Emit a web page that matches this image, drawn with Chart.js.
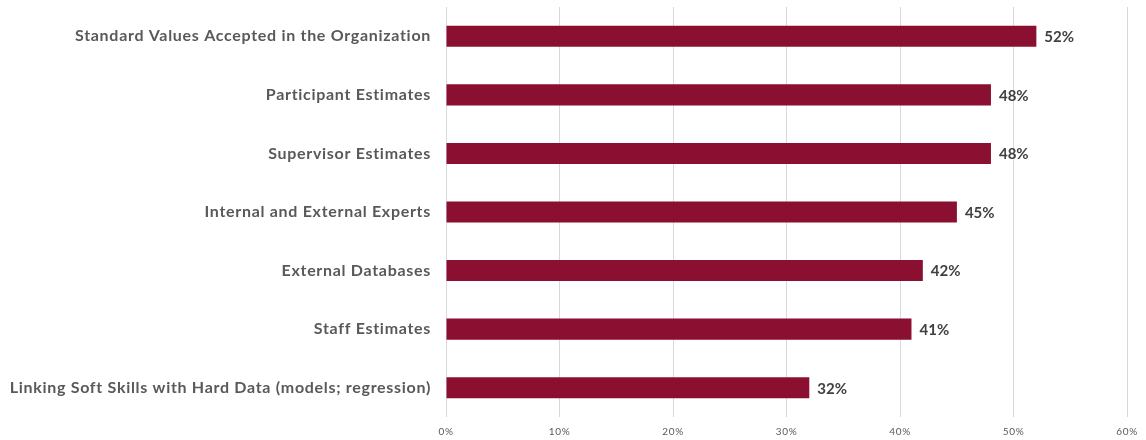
<!DOCTYPE html>
<html><head><meta charset="utf-8">
<script src="https://cdn.jsdelivr.net/npm/chart.js@4/dist/chart.umd.min.js"></script>
<style>html,body{margin:0;padding:0;background:#fff}#wrap{width:1146px;height:440px}</style>
</head><body><div id="wrap"><canvas id="c"></canvas></div>
<script>
const categories = [
  "Standard Values Accepted in the Organization",
  "Participant Estimates",
  "Supervisor Estimates",
  "Internal and External Experts",
  "External Databases",
  "Staff Estimates",
  "Linking Soft Skills with Hard Data (models; regression)"
];
const values = [52, 48, 48, 45, 42, 41, 32];
const tickValues = [0, 10, 20, 30, 40, 50, 60];

const spacing = {
  id: 'spacing',
  beforeDraw(chart) { chart.ctx.letterSpacing = '0.7px'; },
  afterDraw(chart) { chart.ctx.letterSpacing = '0px'; }
};

const barLabels = {
  id: 'barLabels',
  afterDatasetsDraw(chart) {
    const ctx = chart.ctx;
    const meta = chart.getDatasetMeta(0);
    ctx.save();
    ctx.letterSpacing = '0px';
    ctx.font = 'bold 15px Lato, "Open Sans", sans-serif';
    ctx.fillStyle = '#404040';
    ctx.textAlign = 'left';
    ctx.textBaseline = 'middle';
    meta.data.forEach((bar, i) => {
      ctx.fillText(values[i] + '%', bar.x + 8, bar.y + 1);
    });
    ctx.restore();
  }
};

new Chart(document.getElementById('c'), {
  type: 'bar',
  data: {
    labels: categories,
    datasets: [{
      data: values,
      backgroundColor: '#8B0F30',
      borderWidth: 0,
      barPercentage: 0.72,
      categoryPercentage: 0.5
    }]
  },
  options: {
    indexAxis: 'y',
    responsive: true,
    maintainAspectRatio: false,
    animation: false,
    layout: { padding: { top: 7, right: 17, left: 0, bottom: 0 } },
    plugins: { legend: { display: false }, tooltip: { enabled: false } },
    scales: {
      x: {
        min: 0, max: 60,
        afterBuildTicks(scale) { scale.ticks = tickValues.map(v => ({ value: v })); },
        grid: { color: '#d9d9d9', drawTicks: false, lineWidth: 1 },
        border: { display: false },
        ticks: {
          callback: v => v + '%',
          color: '#595959',
          font: { size: 10, family: 'Lato, "Open Sans", sans-serif' },
          padding: 9,
          maxRotation: 0
        },
        afterFit(scale) { scale.height = 23; }
      },
      y: {
        grid: { display: false, drawTicks: false },
        border: { display: false },
        ticks: {
          color: '#595959',
          font: { size: 16, weight: 'bold', family: 'Lato, "Open Sans", sans-serif' },
          padding: 15
        },
        afterFit(scale) { scale.width = 446; scale.paddingTop = 0; scale.paddingBottom = 0; }
      }
    }
  },
  plugins: [spacing, barLabels]
});
</script>
</body></html>
